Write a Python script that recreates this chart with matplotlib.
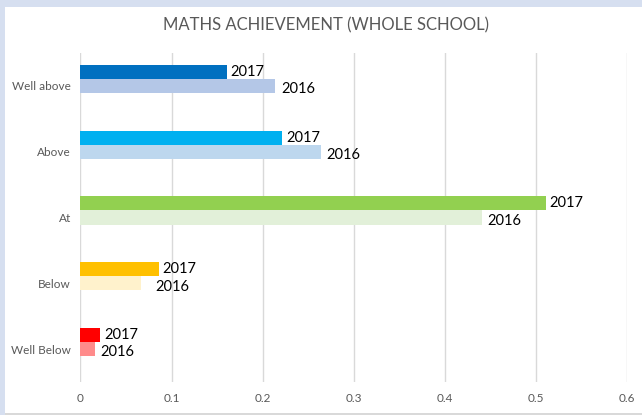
import numpy as np
import matplotlib.pyplot as plt
from matplotlib.patches import Rectangle

categories = ["Well Below", "Below", "At", "Above", "Well above"]
values_2017 = [0.0217, 0.086, 0.511, 0.2216, 0.161]
values_2016 = [0.0155, 0.066, 0.441, 0.264, 0.214]
colors_2017 = ["#FF0000", "#FFC000", "#92D050", "#00B0F0", "#0070C0"]
colors_2016 = ["#FF8B8B", "#FFF2CC", "#E2F0D9", "#BDD7EE", "#B4C7E7"]
xticks = [0, 0.1, 0.2, 0.3, 0.4, 0.5, 0.6]

plt.rcParams["font.family"] = ["Lato", "DejaVu Sans"]

fig = plt.figure(figsize=(6.42, 4.15), dpi=100)
fig.patch.set_facecolor("#D6DFF0")
W, H = 642, 415
fig.patches.append(Rectangle((5 / W, 2 / H), 1 - 5 / W, 1 - 9 / H,
                             transform=fig.transFigure, facecolor="white",
                             edgecolor="none", zorder=-2))
fig.patches.append(Rectangle((5 / W, 0), 1 - 5 / W, 2 / H,
                             transform=fig.transFigure, facecolor="#D9D9D9",
                             edgecolor="none", zorder=-2))

ax = fig.add_axes([80.5 / W, 1 - 382 / H, (627 - 80.5) / W, (382 - 53) / H])
ax.set_facecolor("none")
ax.set_zorder(2)

y = np.arange(len(categories))
h = 0.213
ax.barh(y + h, values_2017, height=h, color=colors_2017, zorder=3)
ax.barh(y, values_2016, height=h, color=colors_2016, zorder=3)

for i in range(len(categories)):
    ax.text(values_2017[i] + 0.004, y[i] + h, "2017", va="center", ha="left",
            fontsize=10.5, color="black", zorder=4)
    # the 2016 label of "Below" sits further right so it clears the 2017 one
    dx = 0.016 if categories[i] == "Below" else 0.006
    ax.text(values_2016[i] + dx, y[i] - 0.05, "2016", va="center", ha="left",
            fontsize=10.5, color="black", zorder=4)

ax.set_xlim(0, 0.6)
ax.set_ylim(-0.5, len(categories) - 0.5)
ax.set_xticks(xticks)
ax.set_xticklabels([f"{t:g}" for t in xticks])
ax.set_yticks(y)
ax.set_yticklabels(categories)
ax.tick_params(axis="both", length=0, labelsize=8.5, labelcolor="#595959")
ax.tick_params(axis="x", pad=8)
ax.tick_params(axis="y", pad=7)
ax.grid(axis="x", color="#D9D9D9", linewidth=1, zorder=0)
for s in ax.spines.values():
    s.set_visible(False)

fig.text(0.508, 1 - 25 / H, "MATHS ACHIEVEMENT (WHOLE SCHOOL)", ha="center",
         va="center", fontsize=12, color="#595959")

fig.savefig("out.png", dpi=100, facecolor=fig.get_facecolor())
